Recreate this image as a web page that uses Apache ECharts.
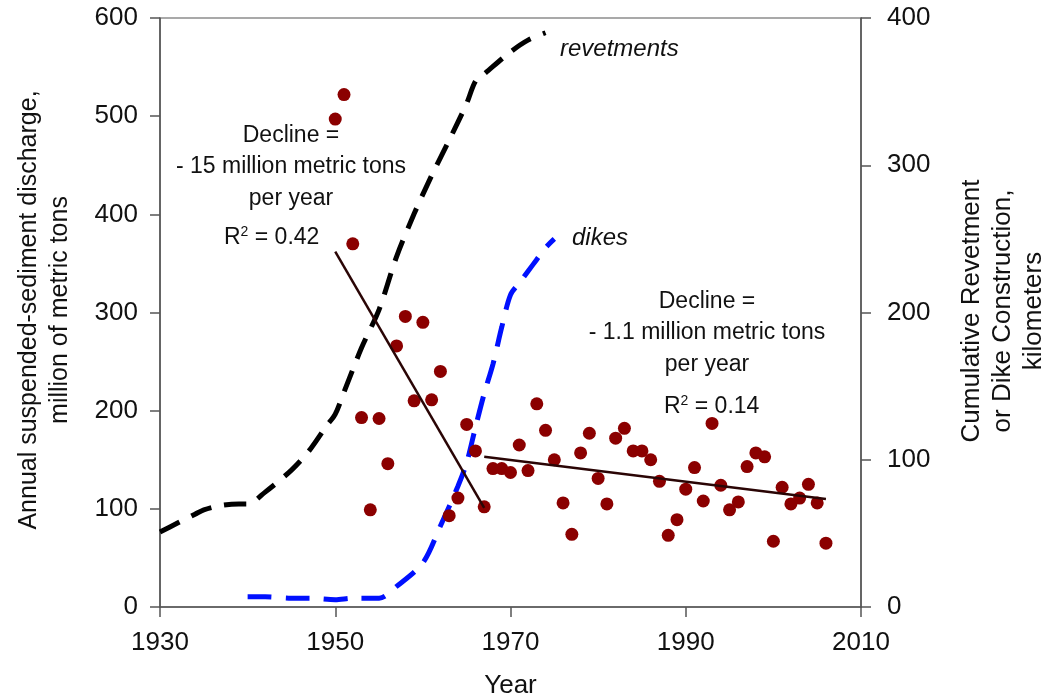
<!DOCTYPE html>
<html><head><meta charset="utf-8">
<script src="https://cdn.jsdelivr.net/npm/echarts@6/dist/echarts.min.js"></script>
<style>html,body{margin:0;padding:0;background:#fff}#c{width:1050px;height:695px}</style>
</head><body><div id="c"></div>
<script>
const years = [1950,1951,1952,1953,1954,1955,1956,1957,1958,1959,1960,1961,1962,1963,1964,1965,1966,1967,1968,1969,1970,1971,1972,1973,1974,1975,1976,1977,1978,1979,1980,1981,1982,1983,1984,1985,1986,1987,1988,1989,1990,1991,1992,1993,1994,1995,1996,1997,1998,1999,2000,2001,2002,2003,2004,2005,2006];
const discharge = [497,522,370,193,99,192,146,266,296,210,290,211,240,93,111,186,159,102,141,141,137,165,139,207,180,150,106,74,157,177,131,105,172,182,159,159,150,128,73,89,120,142,108,187,124,99,107,143,157,153,67,122,105,111,125,106,65];
const revYears = [1930,1932,1934,1935,1937,1939,1940,1942,1945,1947,1949,1950,1951,1953,1955,1957,1959,1961,1963,1965,1966,1967,1970,1972,1974];
const revetments = [51,57,63,66,69,70,70,78,93,106,123,131,146,176,202,238,267,293,317,342,357,362,377,385,390];
const dikeYears = [1940,1942,1945,1947,1950,1952,1955,1957,1960,1962,1964,1965,1966,1967,1968,1969,1970,1971,1972,1973,1974,1975];
const dikes = [7,7,6,6,5,6,6,14,30,55,82,98,122,145,165,190,212,220,228,236,244,250];
const trend1Years = [1950,1967];
const trend1 = [362,101];
const trend2Years = [1967,2006];
const trend2 = [153,110];
const xTicks = [1930,1950,1970,1990,2010];

const F = 'Liberation Sans, Arial, Helvetica, sans-serif';
const zip = (a,b)=>a.map((v,i)=>[v,b[i]]);
const chart = echarts.init(document.getElementById('c'));
chart.setOption({
  animation:false,
  backgroundColor:'#fff',
  grid:{left:160,right:189,top:18,bottom:88,containLabel:false,outerBoundsMode:'none',show:true,borderColor:'#555',borderWidth:1.2,backgroundColor:'transparent'},
  xAxis:{type:'value',min:1930,max:2010,interval:20,
    axisLine:{show:true,onZero:false,lineStyle:{color:'#555',width:1.5}},
    axisTick:{show:true,length:10,inside:false,lineStyle:{color:'#555',width:1.5}},
    splitLine:{show:false},
    axisLabel:{color:'#111',fontSize:26,fontFamily:F,margin:23,formatter:v=>xTicks.includes(v)?String(v):''},
    name:'Year',nameLocation:'middle',nameGap:66,nameTextStyle:{color:'#111',fontSize:26,fontFamily:F}},
  yAxis:[
    {type:'value',min:0,max:600,interval:100,position:'left',
     axisLine:{show:true,lineStyle:{color:'#555',width:1.5}},
     axisTick:{show:true,length:10,lineStyle:{color:'#555',width:1.5}},
     splitLine:{show:false},
     axisLabel:{color:'#111',fontSize:26,fontFamily:F,margin:22}},
    {type:'value',min:0,max:400,interval:100,position:'right',
     axisLine:{show:true,lineStyle:{color:'#555',width:1.5}},
     axisTick:{show:true,length:10,lineStyle:{color:'#555',width:1.5}},
     splitLine:{show:false},
     axisLabel:{color:'#111',fontSize:26,fontFamily:F,margin:26}}
  ],
  series:[
    {type:'line',yAxisIndex:1,data:zip(revYears,revetments),showSymbol:false,smooth:0.3,
     lineStyle:{color:'#000',width:5,type:[22,13]},z:2},
    {type:'line',yAxisIndex:1,data:zip(dikeYears,dikes),showSymbol:false,smooth:0.3,
     lineStyle:{color:'#0010ff',width:5,type:[24,14]},z:2},
    {type:'scatter',yAxisIndex:0,data:zip(years,discharge),symbolSize:13,
     itemStyle:{color:'#8b0000',opacity:1},z:3},
    {type:'line',yAxisIndex:0,data:zip(trend1Years,trend1),showSymbol:false,
     lineStyle:{color:'#2a0505',width:2.5},z:4},
    {type:'line',yAxisIndex:0,data:zip(trend2Years,trend2),showSymbol:false,
     lineStyle:{color:'#2a0505',width:2.5},z:4}
  ],
  graphic:[
    {type:'text',x:560,y:49,style:{text:'revetments',font:'italic 24px '+F,fill:'#111',verticalAlign:'middle'}},
    {type:'text',x:572,y:238,style:{text:'dikes',font:'italic 24px '+F,fill:'#111',verticalAlign:'middle'}},
    {type:'text',x:291,y:167,style:{text:'Decline =\n- 15 million metric tons\nper year',font:'23px '+F,fill:'#111',align:'center',verticalAlign:'middle',lineHeight:31.5}},
    {type:'text',x:224,y:238,style:{text:'R{s|2} = 0.42',font:'23px '+F,fill:'#111',verticalAlign:'middle',rich:{s:{fontSize:14,fontFamily:F,verticalAlign:'top',padding:[0,0,11,0]}}}},
    {type:'text',x:707,y:333,style:{text:'Decline =\n- 1.1 million metric tons\nper year',font:'23px '+F,fill:'#111',align:'center',verticalAlign:'middle',lineHeight:31.5}},
    {type:'text',x:664,y:407,style:{text:'R{s|2} = 0.14',font:'23px '+F,fill:'#111',verticalAlign:'middle',rich:{s:{fontSize:14,fontFamily:F,verticalAlign:'top',padding:[0,0,11,0]}}}},
    {type:'text',x:45,y:310,rotation:Math.PI/2,style:{text:'Annual suspended-sediment discharge,\nmillion of metric tons',font:'25px '+F,fill:'#111',align:'center',verticalAlign:'middle',lineHeight:31}},
    {type:'text',x:1003,y:311,rotation:Math.PI/2,style:{text:'Cumulative Revetment\nor Dike Construction,\nkilometers',font:'26px '+F,fill:'#111',align:'center',verticalAlign:'middle',lineHeight:31}}
  ]
});
</script></body></html>
